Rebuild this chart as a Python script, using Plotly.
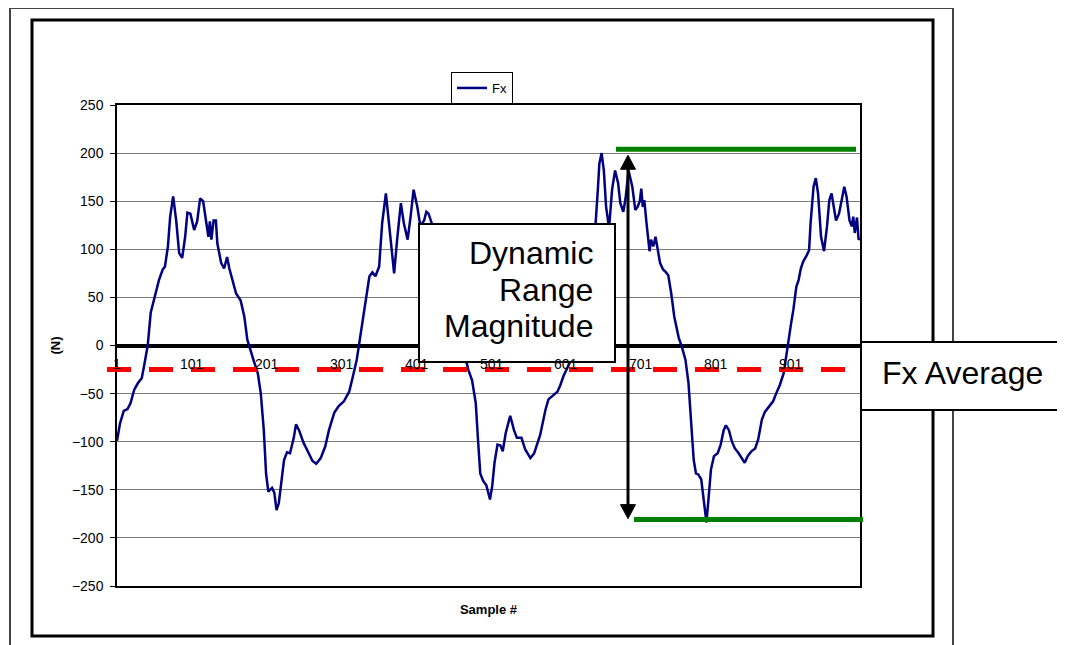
import plotly.graph_objects as go

# ---------------- data ----------------
sample_idx = [1, 5, 10, 15, 19, 24, 29, 34, 37, 42, 46, 52, 57, 62, 65, 69, 72, 76, 80, 84, 88, 92, 95, 99,
              104, 108, 112, 116, 120, 123, 125, 127, 130, 133, 135, 140, 144, 148, 151, 155, 160, 166, 171,
              175, 180, 184, 189, 193, 197, 200, 203, 208, 211, 214, 217, 221, 224, 228, 232, 237, 240, 244,
              250, 257, 262, 267, 273, 279, 284, 291, 297, 304, 311, 316, 321, 324, 328, 333, 338, 342, 346,
              351, 355, 360, 364, 371, 375, 380, 384, 389, 393, 397, 402, 406, 411, 414, 417, 425, 435, 445,
              455, 462, 468, 470, 475, 480, 483, 486, 490, 494, 499, 502, 505, 509, 513, 516, 520, 526, 531,
              535, 541, 546, 553, 558, 566, 573, 577, 583, 589, 593, 597, 603, 606, 612, 620, 627, 633, 637,
              640, 643, 645, 648, 651, 654, 658, 662, 666, 670, 673, 677, 680, 684, 689, 693, 696, 699, 701,
              703, 705, 708, 710, 712, 714, 717, 720, 723, 726, 730, 733, 737, 741, 745, 751, 755, 760, 764,
              768, 771, 774, 777, 781, 785, 788, 791, 794, 798, 803, 807, 811, 814, 818, 822, 826, 831, 835,
              839, 843, 848, 853, 857, 862, 866, 872, 877, 881, 886, 891, 894, 897, 901, 904, 908, 911, 914,
              917, 922, 925, 927, 931, 934, 937, 941, 945, 949, 952, 955, 958, 961, 965, 969, 972, 975, 979,
              982, 984, 986, 989, 991, 993]
fx = [-99, -81, -68, -66, -60, -46, -39, -34, -22, 0, 34, 53, 68, 79, 82, 103, 134, 155, 130, 96, 91, 113, 138, 137,
      120, 129, 153, 150, 130, 113, 129, 110, 130, 130, 106, 86, 80, 92, 80, 68, 54, 47, 30,
      6, -8, -17, -29, -50, -88, -133, -152, -148, -153, -171, -164, -136, -119, -111, -112, -96, -82, -88,
      -101, -112, -120, -123, -117, -105, -88, -70, -63, -58, -48, -32, -15, 0, 20, 44, 72, 76, 72,
      82, 127, 158, 130, 75, 110, 148, 127, 110, 134, 162, 144, 124, 130, 139, 137, 118, 90, 58,
      25, 2, -17, -25, -36, -60, -98, -133, -141, -145, -160, -146, -122, -103, -104, -110, -91, -73, -88,
      -96, -96, -108, -117, -112, -93, -67, -56, -52, -48, -41, -32, -22, -17, 0, 30, 65, 95, 115,
      127, 162, 189, 200, 182, 144, 122, 162, 182, 169, 148, 139, 153, 182, 165, 141, 144, 150, 163,
      144, 151, 127, 113, 98, 110, 103, 113, 99, 86, 79, 77, 73, 54, 30, 8, -1, -15, -39,
      -81, -119, -133, -134, -139, -167, -184, -157, -129, -115, -112, -103, -88, -83, -88, -100, -107, -112, -117,
      -122, -115, -110, -107, -98, -77, -69, -63, -58, -50, -41, -29, -15, 2, 23, 37, 61, 68, 80,
      87, 94, 99, 127, 165, 174, 158, 113, 98, 124, 151, 158, 144, 130, 137, 155, 165, 155, 130,
      124, 134, 117, 133, 111, 110]

x_tick_vals = [1, 101, 201, 301, 401, 501, 601, 701, 801, 901]
x_tick_labels = ["1", "101", "201", "301", "401", "501", "601", "701", "801", "901"]
y_tick_vals = [-250, -200, -150, -100, -50, 0, 50, 100, 150, 200, 250]

fx_average = -25
range_top = 204
range_bottom = -181
dr_lines = ["Dynamic", "Range", "Magnitude"]

# ---------------- layout geometry (screen pixels) ----------------
W_FIG, H_FIG = 1065, 645
PAGE_OFF = 8  # default body margin of the html page
L, R, T, B = 117, 860, 105, 586
PW, PH = R - L, B - T
FONT = "Arial, 'Liberation Sans', sans-serif"


def pxx(px):
    return (px - L) / PW


def pyy(py):
    return (B - py) / PH


def val_to_py(v):
    return B - (v + 250) / 500 * PH


fig = go.Figure()
fig.add_trace(go.Scatter(x=sample_idx, y=fx, mode="lines", name="Fx",
                         line=dict(color="#000080", width=2.5)))

shapes = []
# outer frames
shapes.append(dict(type="rect", xref="paper", yref="paper", x0=pxx(10), x1=pxx(953), y0=pyy(660), y1=pyy(8),
                   line=dict(color="#444444", width=2), layer="above"))
shapes.append(dict(type="rect", xref="paper", yref="paper", x0=pxx(32), x1=pxx(933), y0=pyy(636), y1=pyy(20),
                   line=dict(color="black", width=3), layer="above"))
# average line
shapes.append(dict(type="line", xref="paper", yref="y", x0=pxx(107), x1=pxx(845), y0=fx_average, y1=fx_average,
                   line=dict(color="#FF0000", width=5, dash="24px,18px"), layer="above"))
# range lines
shapes.append(dict(type="line", xref="paper", yref="y", x0=pxx(616), x1=pxx(856), y0=range_top, y1=range_top,
                   line=dict(color="#008000", width=5), layer="above"))
shapes.append(dict(type="line", xref="paper", yref="y", x0=pxx(634), x1=pxx(863), y0=range_bottom, y1=range_bottom,
                   line=dict(color="#008000", width=5), layer="above"))
# double arrow
ax = 628
tip_top = val_to_py(range_top) + 6
tip_bot = val_to_py(range_bottom) - 1
hw, hh = 7.5, 14
shapes.append(dict(type="line", xref="paper", yref="paper", x0=pxx(ax), x1=pxx(ax),
                   y0=pyy(tip_top + hh - 2), y1=pyy(tip_bot - hh + 2), line=dict(color="black", width=3),
                   layer="above"))
for tip, base in [(tip_top, tip_top + hh), (tip_bot, tip_bot - hh)]:
    path = "M {} {} L {} {} L {} {} Z".format(pxx(ax), pyy(tip), pxx(ax - hw), pyy(base), pxx(ax + hw), pyy(base))
    shapes.append(dict(type="path", xref="paper", yref="paper", path=path, fillcolor="black",
                       line=dict(color="black", width=1), layer="above"))
# text boxes
shapes.append(dict(type="rect", xref="paper", yref="paper", x0=pxx(419), x1=pxx(615), y0=pyy(362), y1=pyy(224),
                   fillcolor="white", line=dict(color="black", width=2), layer="above"))
shapes.append(dict(type="rect", xref="paper", yref="paper", x0=pxx(861), x1=pxx(1080), y0=pyy(410), y1=pyy(342),
                   fillcolor="white", line=dict(color="black", width=2), layer="above"))

annotations = []
for xv, lab in zip(x_tick_vals, x_tick_labels):
    annotations.append(dict(x=xv, y=0, xref="x", yref="y", text=lab, showarrow=False, xanchor="center",
                            yanchor="top", yshift=-8, font=dict(family=FONT, size=14, color="black")))
for i, line_txt in enumerate(dr_lines):
    annotations.append(dict(x=pxx(595), y=pyy(253 + i * 36.7), xref="paper", yref="paper", text=line_txt,
                            showarrow=False, xanchor="right", yanchor="middle",
                            font=dict(family=FONT, size=32, color="black")))
annotations.append(dict(x=pxx(880), y=pyy(373), xref="paper", yref="paper", text="Fx Average",
                        showarrow=False, xanchor="left", yanchor="middle",
                        font=dict(family=FONT, size=32, color="black")))

fig.update_layout(
    width=W_FIG, height=H_FIG,
    margin=dict(l=L - PAGE_OFF, r=W_FIG - (R - PAGE_OFF), t=T - PAGE_OFF, b=H_FIG - (B - PAGE_OFF), pad=0),
    paper_bgcolor="white", plot_bgcolor="white",
    font=dict(family=FONT, size=14, color="black"),
    shapes=shapes, annotations=annotations,
    showlegend=True,
    legend=dict(x=pxx(451), y=pyy(72), xanchor="left", yanchor="top", bgcolor="white",
                bordercolor="black", borderwidth=1, font=dict(size=13), itemwidth=30,
                tracegroupgap=0),
    xaxis=dict(range=[1, 993], showgrid=False, zeroline=False, showticklabels=False, ticks="",
               showline=True, mirror=True, linecolor="black", linewidth=1.5,
               title=dict(text="<b>Sample #</b>", standoff=18, font=dict(size=13))),
    yaxis=dict(range=[-250, 250], tickvals=y_tick_vals, ticks="outside", ticklen=5, tickcolor="black",
               showgrid=True, gridcolor="#7a7a7a", gridwidth=1,
               zeroline=True, zerolinecolor="black", zerolinewidth=3.5,
               showline=True, mirror=True, linecolor="black", linewidth=1.5,
               ticklabelstandoff=4,
               title=dict(text="<b>(N)</b>", standoff=8, font=dict(size=13))),
)

fig.write_html("out.html")
